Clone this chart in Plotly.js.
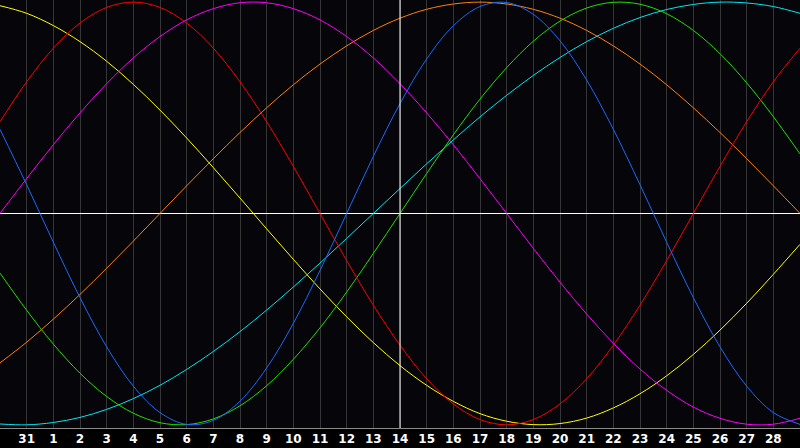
<!DOCTYPE html>
<html>
<head>
<meta charset="utf-8">
<script src="https://cdn.plot.ly/plotly-3.0.1.min.js"></script>
<style>
  html, body { margin: 0; padding: 0; background: #000000; }
  #chart { width: 800px; height: 448px; }
</style>
</head>
<body>
<div id="chart"></div>
<script>
// day index 0..30, read at every grid line
const days = [0,1,2,3,4,5,6,7,8,9,10,11,12,13,14,15,16,17,18,19,20,21,22,23,24,25,26,27,28,29,30];
const tickDays = [1,2,3,4,5,6,7,8,9,10,11,12,13,14,15,16,17,18,19,20,21,22,23,24,25,26,27,28,29];
const tickLabels = ['31','1','2','3','4','5','6','7','8','9','10','11','12','13','14',
  '15','16','17','18','19','20','21','22','23','24','25','26','27','28'];
const today = 15;

// values of each cycle at each day (-1 .. 1)
const physical = [0.398,0.136,-0.136,-0.398,-0.631,-0.817,-0.942,-0.998,-0.979,-0.888,-0.731,
  -0.520,-0.270,0,0.270,0.520,0.731,0.888,0.979,0.998,0.942,0.817,0.631,0.398,0.136,-0.136,
  -0.398,-0.631,-0.817,-0.942,-0.998];
const emotional = [0.434,0.623,0.782,0.901,0.975,1,0.975,0.901,0.782,0.623,0.434,0.223,0,
  -0.223,-0.434,-0.623,-0.782,-0.901,-0.975,-1,-0.975,-0.901,-0.782,-0.623,-0.434,-0.223,0,
  0.223,0.434,0.623,0.782];
const intellectual = [-0.282,-0.458,-0.618,-0.756,-0.866,-0.945,-0.990,-0.999,-0.972,-0.910,
  -0.815,-0.690,-0.541,-0.372,-0.189,0,0.189,0.372,0.541,0.690,0.815,0.910,0.972,0.999,0.990,
  0.945,0.866,0.756,0.618,0.458,0.282];
const intuitive = [0,0.165,0.325,0.476,0.614,0.736,0.837,0.916,0.969,0.997,0.997,0.969,0.916,
  0.837,0.736,0.614,0.476,0.325,0.165,0,-0.165,-0.325,-0.476,-0.614,-0.736,-0.837,-0.916,
  -0.969,-0.997,-0.997,-0.969];
const aesthetic = [0.983,0.947,0.889,0.813,0.720,0.611,0.489,0.357,0.217,0.073,-0.073,-0.217,
  -0.357,-0.489,-0.611,-0.720,-0.813,-0.889,-0.947,-0.983,-0.999,-0.994,-0.968,-0.920,-0.853,
  -0.768,-0.667,-0.552,-0.425,-0.288,-0.146];
const awareness = [-0.707,-0.609,-0.5,-0.383,-0.259,-0.131,0,0.131,0.259,0.383,0.5,0.609,0.707,
  0.793,0.866,0.924,0.966,0.991,1,0.991,0.966,0.924,0.866,0.793,0.707,0.609,0.5,0.383,0.259,
  0.131,0];
const spiritual = [-0.996,-1,-0.989,-0.965,-0.927,-0.876,-0.813,-0.738,-0.653,-0.559,-0.457,
  -0.348,-0.235,-0.118,0,0.118,0.235,0.348,0.457,0.559,0.653,0.738,0.813,0.876,0.927,0.965,
  0.989,1,0.996,0.979,0.947];

const cycles = [
  { name: 'Spiritual', y: spiritual, color: '#00e8f0' },
  { name: 'Awareness', y: awareness, color: '#ff8010' },
  { name: 'Aesthetic', y: aesthetic, color: '#ffff00' },
  { name: 'Intuitive', y: intuitive, color: '#ff00ff' },
  { name: 'Intellectual', y: intellectual, color: '#20e000' },
  { name: 'Emotional', y: emotional, color: '#ff0000' },
  { name: 'Physical', y: physical, color: '#1a6aff' }
];

var data = cycles.map(c => ({
  x: days,
  y: c.y,
  name: c.name,
  type: 'scatter',
  mode: 'lines',
  line: { color: c.color, width: 1, shape: 'spline', smoothing: 1 },
  hoverinfo: 'skip'
}));

var layout = {
  width: 800,
  height: 448,
  margin: { l: 0, r: 0, t: 0, b: 20, pad: 0 },
  paper_bgcolor: '#000000',
  plot_bgcolor: '#060509',
  showlegend: false,
  xaxis: {
    range: [0, 30],
    tickvals: tickDays,
    ticktext: tickLabels,
    ticks: '',
    showgrid: true,
    gridcolor: '#363636',
    gridwidth: 1,
    zeroline: false,
    showline: true,
    mirror: true,
    linecolor: '#8a8a8a',
    linewidth: 1,
    tickfont: { family: 'DejaVu Sans', size: 12, color: '#ffffff', weight: 'bold' },
    fixedrange: true
  },
  yaxis: {
    range: [-1.015, 1.01],
    showgrid: false,
    showticklabels: false,
    ticks: '',
    zeroline: true,
    zerolinecolor: '#ffffff',
    zerolinewidth: 1,
    showline: true,
    linecolor: '#8a8a8a',
    linewidth: 1,
    fixedrange: true
  },
  shapes: [
    {
      type: 'line', xref: 'x', yref: 'paper',
      x0: today, x1: today, y0: 0, y1: 1,
      line: { color: '#ffffff', width: 1 }
    }
  ]
};

Plotly.newPlot('chart', data, layout, { displayModeBar: false, staticPlot: true });
</script>
</body>
</html>
